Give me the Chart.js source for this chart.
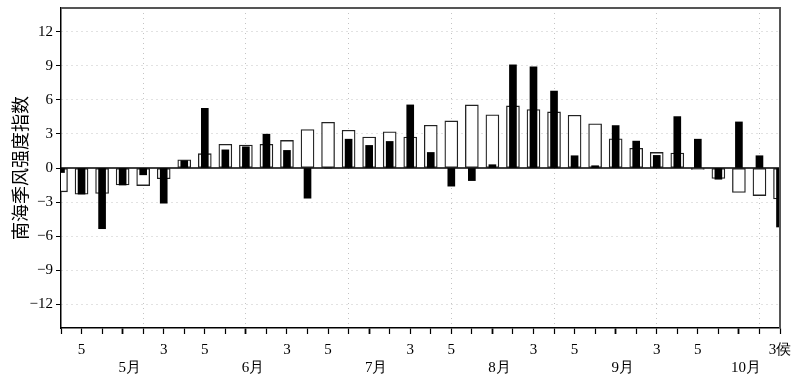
<!DOCTYPE html>
<html lang="zh">
<head>
<meta charset="UTF-8">
<title>南海季风强度指数</title>
<script src="https://cdn.jsdelivr.net/npm/chart.js@4.4.1/dist/chart.umd.min.js"></script>
<style>
  html, body { margin: 0; padding: 0; background: #fff; }
  #wrap { width: 804px; height: 377px; }
</style>
</head>
<body>
<div id="wrap"><canvas id="myChart" width="804" height="377"></canvas></div>
<script>
    // pentads from Apr p4 to Oct p3 (36 pentads)
    const pentadLabels = ['', '5', '', '', '', '3', '', '5', '', '', '', '3',
                          '', '5', '', '', '', '3', '', '5', '', '', '', '3',
                          '', '5', '', '', '', '3', '', '5', '', '', '', '3侯'];
    const monthLabels = ['', '', '', '5月', '', '', '', '', '', '6月', '', '',
                         '', '', '', '7月', '', '', '', '', '', '8月', '', '',
                         '', '', '', '9月', '', '', '', '', '', '10月', '', ''];
    const yTicks = [-12, -9, -6, -3, 0, 3, 6, 9, 12];

    // open bars
    const openValues = [-2.1, -2.3, -2.25, -1.5, -1.55, -0.95, 0.73, 1.26, 2.08, 2.02, 2.08, 2.43,
                        3.39, 4.03, 3.33, 2.72, 3.19, 2.72, 3.77, 4.15, 5.56, 4.68, 5.47, 5.15,
                        4.94, 4.65, 3.89, 2.57, 1.73, 1.37, 1.32, -0.12, -0.92, -2.16, -2.43, -2.72];
    // solid bars
    const solidValues = [-0.4, -2.3, -5.35, -1.5, -0.6, -3.1, 0.65, 5.26, 1.6, 1.87, 2.98, 1.55,
                         -2.66, 0, 2.54, 1.99, 2.34, 5.56, 1.37, -1.6, -1.11, 0.29, 9.09, 8.92,
                         6.78, 1.08, 0.2, 3.74, 2.37, 1.11, 4.53, 2.54, -0.99, 4.06, 1.08, -5.2];

    const serif = 'Liberation Serif';

    // top/right frame and the zero line
    const framePlugin = {
        id: 'frame',
        afterDatasetsDraw(chart) {
            const {ctx, chartArea: a, scales: {y}} = chart;
            const y0 = y.getPixelForValue(0);
            ctx.save();
            ctx.strokeStyle = '#000';
            ctx.lineWidth = 1.5;
            ctx.beginPath();
            ctx.moveTo(a.left, y0);
            ctx.lineTo(a.right, y0);
            ctx.stroke();
            ctx.strokeStyle = '#555';
            ctx.lineWidth = 2;
            ctx.beginPath();
            ctx.moveTo(a.left, a.top);
            ctx.lineTo(a.right, a.top);
            ctx.lineTo(a.right, a.bottom);
            ctx.stroke();
            ctx.restore();
        }
    };

    new Chart('myChart', {
        type: 'bar',
        data: {
            labels: pentadLabels,
            datasets: [{
                data: solidValues,
                backgroundColor: '#000',
                borderWidth: 0,
                barThickness: 7,
                order: 0
            }, {
                data: openValues,
                backgroundColor: '#fff',
                borderColor: '#222',
                borderWidth: 1.3,
                borderSkipped: false,
                barThickness: 13,
                order: 1
            }]
        },
        options: {
            responsive: false,
            animation: false,
            grouped: false,
            layout: { padding: { left: 0, top: 8, right: 24, bottom: 0 } },
            plugins: { legend: { display: false }, tooltip: { enabled: false } },
            scales: {
                x: {
                    type: 'category',
                    offset: false,
                    weight: 0,
                    afterFit: scale => { scale.height = 31; },
                    grid: {
                        offset: false,
                        color: ctx => (ctx.index % 5 === 4 ? '#c4c4c4' : 'rgba(0,0,0,0)'),
                        tickColor: '#000',
                        tickWidth: ctx => (ctx.index % 6 === 3 ? 1.8 : 1.2),
                        tickLength: 6
                    },
                    border: { color: '#000', width: 1.5, dash: [1, 4] },
                    ticks: {
                        autoSkip: false,
                        maxRotation: 0,
                        padding: 7,
                        color: '#000',
                        font: { family: serif, size: 15 }
                    }
                },
                x2: {
                    type: 'category',
                    position: 'bottom',
                    labels: monthLabels,
                    offset: false,
                    weight: 1,
                    afterFit: scale => { scale.height = 18; },
                    grid: { display: false, drawTicks: false },
                    border: { display: false },
                    ticks: {
                        autoSkip: false,
                        maxRotation: 0,
                        padding: 0,
                        labelOffset: 7,
                        color: '#000',
                        font: { family: serif, size: 15 }
                    }
                },
                y: {
                    min: -14.1,
                    max: 14.1,
                    afterBuildTicks: scale => { scale.ticks = yTicks.map(v => ({ value: v })); },
                    afterFit: scale => {
                        scale.width = 61;
                        scale.paddingTop = 0;
                        scale.paddingBottom = 0;
                    },
                    grid: {
                        color: ctx => (ctx.tick && ctx.tick.value === 0 ? 'rgba(0,0,0,0)' : '#c4c4c4'),
                        tickColor: '#000',
                        tickLength: 5
                    },
                    border: { color: '#000', width: 1.5, dash: [1, 4] },
                    ticks: {
                        padding: 3,
                        color: '#000',
                        font: { family: serif, size: 15 },
                        callback: v => String(v).replace('-', '\u2212')
                    },
                    title: {
                        display: true,
                        text: '南海季风强度指数',
                        color: '#000',
                        padding: { top: 9, bottom: 0 },
                        font: { family: 'Noto Sans CJK SC', size: 18 }
                    }
                }
            }
        },
        plugins: [framePlugin]
    });
</script>
</body>
</html>
